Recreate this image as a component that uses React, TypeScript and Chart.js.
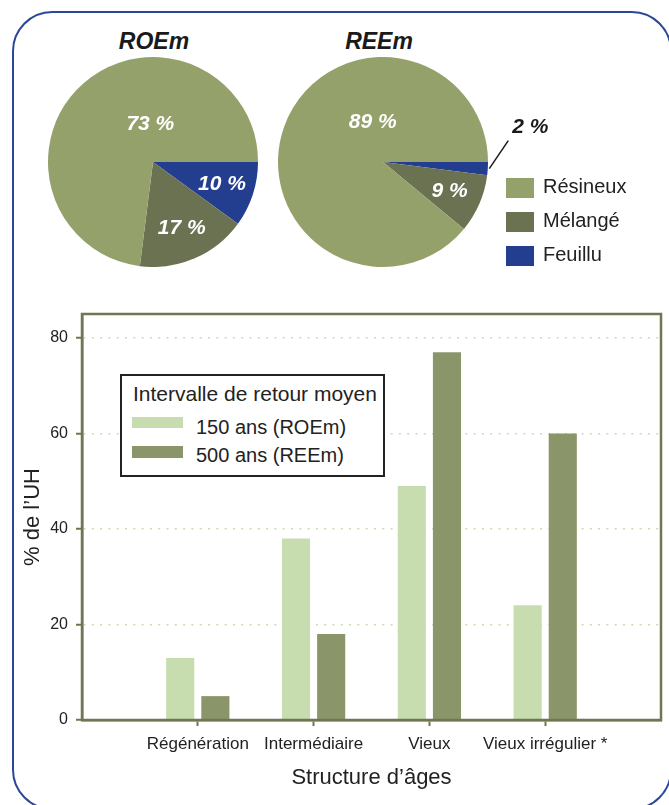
import React, { useEffect, useRef } from 'react';
import { Chart, registerables } from 'chart.js';

Chart.register(...registerables);

const FONT = '"Liberation Sans", Arial, Helvetica, sans-serif';

// ---- Pie data ----
const PIE_CATEGORIES = ['Résineux', 'Mélangé', 'Feuillu'];
const PIE_COLORS = ['#95a16b', '#6b7252', '#243e8f'];
const ROEM_TITLE = 'ROEm';
const REEM_TITLE = 'REEm';
const ROEM_SHARES = [73, 17, 10];
const REEM_SHARES = [89, 9, 2];

// ---- Bar data ----
const AGE_CATEGORIES = ['Régénération', 'Intermédiaire', 'Vieux', 'Vieux irrégulier *'];
const SERIES_LABELS = ['150 ans (ROEm)', '500 ans (REEm)'];
const SERIES_150 = [13, 38, 49, 24];
const SERIES_500 = [5, 18, 77, 60];
const BAR_COLORS = ['#c7dcaf', '#8a966a'];
const Y_TICKS = [0, 20, 40, 60, 80];
const Y_MAX = 85;
const LEGEND_TITLE = 'Intervalle de retour moyen';
const X_TITLE = 'Structure d’âges';
const Y_TITLE = '% de l’UH';

const OLIVE = '#6f7651';
const TEXT = '#222222';

const pieLabelPlugin = {
  id: 'pieLabels',
  afterDatasetsDraw(chart: any, _args: any, opts: any) {
    const ctx = chart.ctx;
    const meta = chart.getDatasetMeta(0);
    const data = chart.data.datasets[0].data as number[];
    const maxVal = Math.max(...data);
    meta.data.forEach((el: any, i: number) => {
      const p = el.getProps(['x', 'y', 'startAngle', 'endAngle', 'outerRadius'], true);
      const v = data[i];
      const mid = (p.startAngle + p.endAngle) / 2;
      const text = `${v} %`;
      ctx.save();
      ctx.font = `italic bold 21px ${FONT}`;
      ctx.textAlign = 'center';
      ctx.textBaseline = 'middle';
      if (v < 5) {
        const sx = p.x + Math.cos(mid) * (p.outerRadius + 1.5);
        const sy = p.y + Math.sin(mid) * (p.outerRadius + 1.5);
        const ex = sx + 19;
        const ey = sy - 28;
        ctx.strokeStyle = '#1a1a1a';
        ctx.lineWidth = 1.5;
        ctx.beginPath();
        ctx.moveTo(sx, sy);
        ctx.lineTo(ex, ey);
        ctx.stroke();
        ctx.fillStyle = '#1a1a1a';
        ctx.fillText(text, ex + 22, ey - 13);
      } else {
        let ang = mid;
        let frac = 0.69;
        if (v === maxVal) {
          ang = (opts.bigAngle * Math.PI) / 180;
          frac = opts.bigFrac;
        }
        ctx.fillStyle = '#ffffff';
        ctx.fillText(text, p.x + Math.cos(ang) * p.outerRadius * frac, p.y + Math.sin(ang) * p.outerRadius * frac);
      }
      ctx.restore();
    });
  },
};

const framePlugin = {
  id: 'plotFrame',
  afterDatasetsDraw(chart: any) {
    const { ctx, chartArea } = chart;
    ctx.save();
    ctx.strokeStyle = OLIVE;
    ctx.lineWidth = 2.5;
    ctx.strokeRect(chartArea.left, chartArea.top, chartArea.right - chartArea.left, chartArea.bottom - chartArea.top);
    ctx.restore();
  },
};

function PieChart(props: { values: number[]; left: number; top: number; size: number; padRight: number; bigAngle: number; bigFrac: number }) {
  const ref = useRef<HTMLCanvasElement>(null);
  const { values, left, top, size, padRight, bigAngle, bigFrac } = props;
  useEffect(() => {
    const order = PIE_CATEGORIES.map((_, i) => i).reverse();
    const chart = new Chart(ref.current as HTMLCanvasElement, {
      type: 'pie',
      data: {
        labels: order.map((i) => PIE_CATEGORIES[i]),
        datasets: [
          {
            data: order.map((i) => values[i]),
            backgroundColor: order.map((i) => PIE_COLORS[i]),
            borderWidth: 0,
            hoverOffset: 0,
          },
        ],
      },
      options: {
        responsive: false,
        animation: false,
        events: [],
        rotation: 90,
        layout: { padding: { left: 0, top: 0, bottom: 0, right: padRight } },
        plugins: {
          legend: { display: false },
          tooltip: { enabled: false },
          pieLabels: { bigAngle, bigFrac },
        } as any,
      },
      plugins: [pieLabelPlugin],
    });
    return () => chart.destroy();
  }, []);
  return (
    <canvas
      ref={ref}
      width={size + padRight}
      height={size}
      style={{ position: 'absolute', left, top, width: size + padRight, height: size }}
    />
  );
}

function BarChart() {
  const ref = useRef<HTMLCanvasElement>(null);
  useEffect(() => {
    const labels = ['', ...AGE_CATEGORIES, ''];
    const pad = (arr: number[]) => [null, ...arr, null];
    const chart = new Chart(ref.current as HTMLCanvasElement, {
      type: 'bar',
      data: {
        labels,
        datasets: [
          { label: SERIES_LABELS[0], data: pad(SERIES_150), backgroundColor: BAR_COLORS[0], categoryPercentage: 0.607, barPercentage: 0.8 },
          { label: SERIES_LABELS[1], data: pad(SERIES_500), backgroundColor: BAR_COLORS[1], categoryPercentage: 0.607, barPercentage: 0.8 },
        ],
      },
      options: {
        responsive: false,
        animation: false,
        events: [],
        layout: { padding: { top: 24, right: 7, left: 0, bottom: 0 } },
        plugins: { legend: { display: false }, tooltip: { enabled: false } },
        scales: {
          x: {
            type: 'category',
            offset: false,
            grid: {
              offset: false,
              drawOnChartArea: false,
              drawTicks: true,
              tickLength: 6,
              tickWidth: 2,
              color: OLIVE,
              tickColor: (c: any) => (c.index === 0 || c.index === labels.length - 1 ? 'rgba(0,0,0,0)' : OLIVE),
            },
            border: { display: true, color: OLIVE, width: 2.5 },
            ticks: { autoSkip: false, maxRotation: 0, minRotation: 0, padding: 8, color: TEXT, font: { size: 17, family: FONT } },
            title: { display: true, text: X_TITLE, color: TEXT, font: { size: 22, family: FONT }, padding: { top: 0, bottom: 14 } },
            afterFit: (s: any) => {
              s.height = 85;
            },
          } as any,
          y: {
            min: 0,
            max: Y_MAX,
            afterBuildTicks: (s: any) => {
              s.ticks = Y_TICKS.map((v) => ({ value: v }));
            },
            grid: {
              color: '#c9ddb0',
              lineWidth: 1.5,
              drawTicks: true,
              tickLength: 6,
              tickWidth: 2,
              tickColor: OLIVE,
              tickBorderDash: [],
            },
            border: { display: true, color: OLIVE, width: 2.5, dash: [2, 6.3] },
            ticks: { padding: 8, color: TEXT, font: { size: 16, family: FONT } },
            title: { display: true, text: Y_TITLE, color: TEXT, font: { size: 22, family: FONT }, padding: { top: 20, bottom: 0 } },
            afterFit: (s: any) => {
              s.width = 82;
            },
          } as any,
        },
      },
      plugins: [framePlugin],
    });
    return () => chart.destroy();
  }, []);
  return <canvas ref={ref} width={669} height={515} style={{ position: 'absolute', left: 0, top: 290, width: 669, height: 515 }} />;
}

function Txt(props: { x: number; cy: number; size: number; children: any; bold?: boolean; italic?: boolean; center?: boolean; color?: string }) {
  const { x, cy, size, children, bold, italic, center, color } = props;
  const w = 200;
  return (
    <div
      style={{
        position: 'absolute',
        left: center ? x - w / 2 : x,
        width: center ? w : undefined,
        textAlign: center ? 'center' : 'left',
        top: cy - 0.486 * size,
        fontSize: size,
        lineHeight: '1',
        fontWeight: bold ? 700 : 400,
        fontStyle: italic ? 'italic' : 'normal',
        color: color || TEXT,
        whiteSpace: 'nowrap',
        fontFamily: FONT,
      }}
    >
      {children}
    </div>
  );
}

export default function App() {
  useEffect(() => {
    document.body.style.margin = '0';
  }, []);
  const legendTops = [177.7, 211.7, 245.7];
  const barLegendRows = [
    { sw: 416.7, cy: 426.7 },
    { sw: 446, cy: 454.5 },
  ];
  return (
    <div style={{ position: 'relative', width: 669, height: 805, overflow: 'hidden', background: '#ffffff', fontFamily: FONT }}>
      <div
        style={{
          position: 'absolute',
          left: 12,
          top: 11.25,
          width: 659.75,
          height: 798.3,
          border: '2.5px solid #2b4898',
          borderRadius: 40.25,
          boxSizing: 'border-box',
        }}
      />
      <Txt x={154} cy={41} size={23} bold italic center color="#1a1a1a">{ROEM_TITLE}</Txt>
      <Txt x={379} cy={41.5} size={23} bold italic center color="#1a1a1a">{REEM_TITLE}</Txt>
      <PieChart values={ROEM_SHARES} left={48.3} top={56.7} size={210} padRight={0} bigAngle={-94} bigFrac={0.36} />
      <PieChart values={REEM_SHARES} left={277.5} top={57.3} size={210} padRight={90} bigAngle={-104.5} bigFrac={0.39} />
      {PIE_CATEGORIES.map((c, i) => (
        <React.Fragment key={c}>
          <div style={{ position: 'absolute', left: 506, top: legendTops[i], width: 28, height: 20, background: PIE_COLORS[i] }} />
          <Txt x={543} cy={legendTops[i] + 8.5} size={20}>{c}</Txt>
        </React.Fragment>
      ))}
      <BarChart />
      <div
        style={{
          position: 'absolute',
          left: 120,
          top: 374,
          width: 265,
          height: 103,
          border: '2px solid #222',
          background: '#ffffff',
          boxSizing: 'border-box',
        }}
      />
      <Txt x={133} cy={393} size={21}>{LEGEND_TITLE}</Txt>
      {SERIES_LABELS.map((s, i) => (
        <React.Fragment key={s}>
          <div style={{ position: 'absolute', left: 132, top: barLegendRows[i].sw, width: 51, height: 11.7, background: BAR_COLORS[i] }} />
          <Txt x={196} cy={barLegendRows[i].cy} size={20}>{s}</Txt>
        </React.Fragment>
      ))}
    </div>
  );
}
